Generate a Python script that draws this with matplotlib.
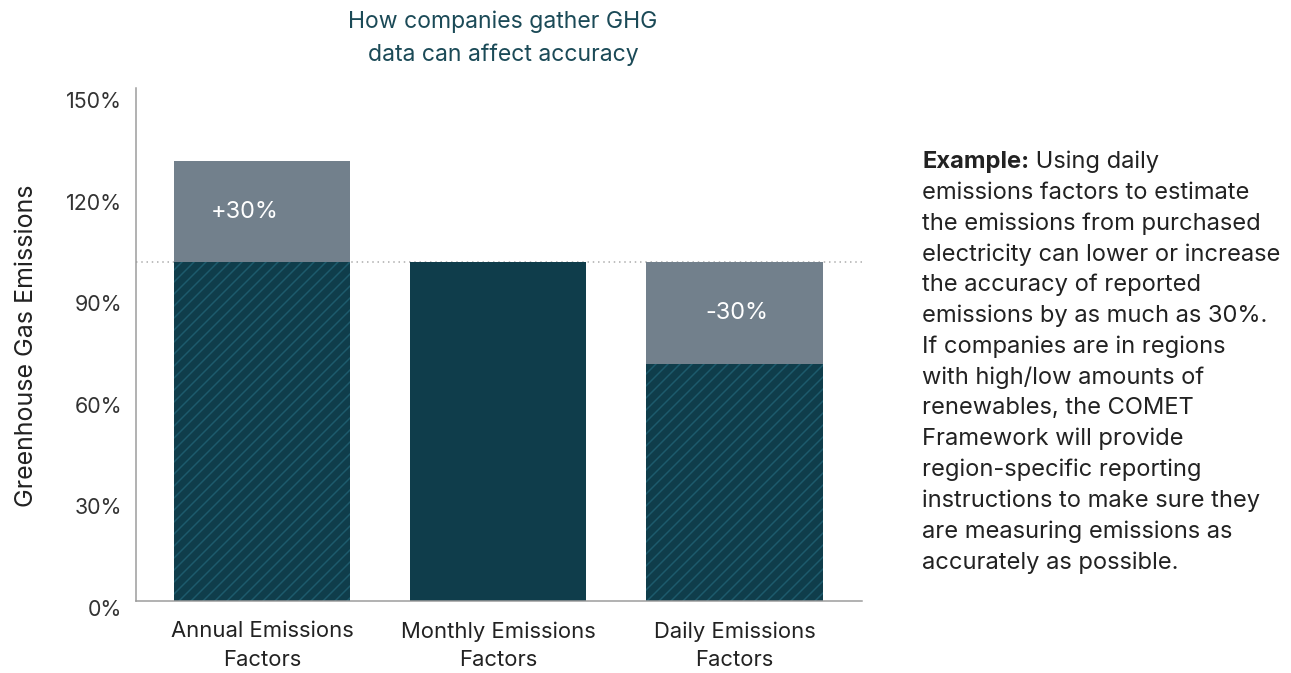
import matplotlib
matplotlib.use("Agg")
import matplotlib.pyplot as plt
from matplotlib.transforms import ScaledTranslation

# ---- data ----
categories = ["Annual Emissions\nFactors", "Monthly Emissions\nFactors", "Daily Emissions\nFactors"]
base_values = [100, 100, 70]
delta_values = [30, 0, 30]
delta_labels = ["+30%", "", "-30%"]
hatched = [True, False, True]
yticks = [0, 30, 60, 90, 120, 150]
reference_level = 100

title = "How companies gather GHG\ndata can affect accuracy"
ylabel = "Greenhouse Gas Emissions"
note_bold = "Example:"
note_lines = [
    " Using daily",
    "emissions factors to estimate",
    "the emissions from purchased",
    "electricity can lower or increase",
    "the accuracy of reported",
    "emissions by as much as 30%.",
    "If companies are in regions",
    "with high/low amounts of",
    "renewables, the COMET",
    "Framework will provide",
    "region-specific reporting",
    "instructions to make sure they",
    "are measuring emissions as",
    "accurately as possible.",
]

# ---- style ----
plt.rcParams['font.family'] = ['Inter', 'DejaVu Sans']
plt.rcParams['hatch.linewidth'] = 1.5
DARK = "#0f3d4b"
GRAY = "#72808c"
HATCH = "#1d5a6c"
TXT = "#333333"

W, H, DPI = 1291, 673, 72
fig = plt.figure(figsize=(W / DPI, H / DPI), dpi=DPI)
ax = fig.add_axes([136 / W, 1 - 601 / H, (862 - 136) / W, (601 - 88) / H])

x = list(range(len(categories)))
BW = 0.746
for i in x:
    if hatched[i]:
        ax.bar(i, base_values[i], width=BW, color=DARK, edgecolor=HATCH,
               hatch="//", linewidth=0, zorder=2)
    else:
        ax.bar(i, base_values[i], width=BW, color=DARK, linewidth=0, zorder=2)
    if delta_values[i]:
        bottom = base_values[i]
        ax.bar(i, delta_values[i], bottom=bottom, width=BW, color=GRAY,
               linewidth=0, zorder=2)
        ax.text(i - (0.072 if delta_labels[i].startswith("+") else -0.01),
                bottom + delta_values[i] / 2, delta_labels[i],
                ha="center", va="center", color="white", fontsize=23.5, zorder=3)

ax.axhline(reference_level, color="#aaaaaa", linestyle=(0, (1, 2.5)),
           linewidth=1.5, zorder=1)

ax.set_xlim(-0.534, 2.54)
ax.set_ylim(0, 151.5)
ax.set_yticks(yticks)
ax.set_yticklabels([f"{v}%" for v in yticks], fontsize=21.4, color=TXT)
ax.set_xticks(x)
ax.set_xticklabels(categories, fontsize=22, color="#222222", linespacing=1.55)
ax.tick_params(axis="both", length=0)
ax.tick_params(axis="y", pad=14)
ax.tick_params(axis="x", pad=20)
for lab in ax.get_yticklabels():
    lab.set_transform(lab.get_transform() + ScaledTranslation(0, -7 / 72, fig.dpi_scale_trans))

for s in ["top", "right"]:
    ax.spines[s].set_visible(False)
for s in ["left", "bottom"]:
    ax.spines[s].set_color("#9a9a9a")
    ax.spines[s].set_linewidth(1.5)

fig.text(27 / W, 1 - 346 / H, ylabel, rotation=90, ha="center", va="center",
         fontsize=25, color="#222222")

fig.text(503 / W, 1 - 38 / H, title, ha="center", va="center", fontsize=23,
         color="#1b4a57", linespacing=1.6)

# right-hand note
x0 = 922 / W
y_first = 162
step = 30.8
FS = 23.7
t = fig.text(x0, 1 - y_first / H, note_bold, ha="left", va="center",
             fontsize=FS, fontweight="bold", color="#222222")
fig.canvas.draw()
ext = t.get_window_extent()
fig.text(ext.x1 / W, 1 - y_first / H, note_lines[0], ha="left", va="center",
         fontsize=FS, color="#222222")
for k, line in enumerate(note_lines[1:], start=1):
    fig.text(x0, 1 - (y_first + k * step) / H, line, ha="left", va="center",
             fontsize=FS, color="#222222")

fig.savefig("out.png", dpi=DPI)
